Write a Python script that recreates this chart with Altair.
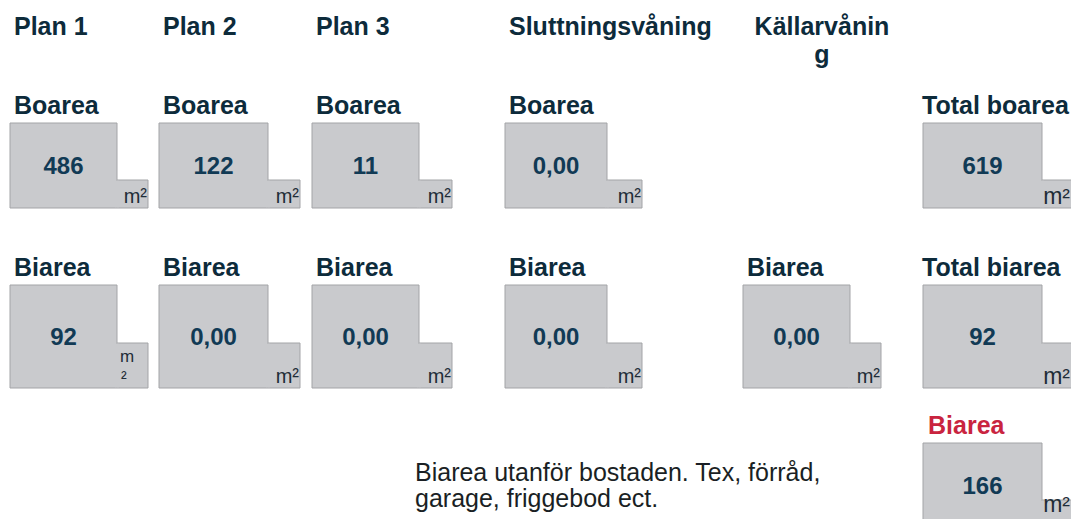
import altair as alt
import pandas as pd

# ---------------- content ----------------
floor_labels = ["Plan 1", "Plan 2", "Plan 3", "Sluttningsvåning", "Källarvånin\ng"]
boarea_label = "Boarea"
biarea_label = "Biarea"
boarea_values = ["486", "122", "11", "0,00"]          # Källarvåning has no boarea field
biarea_values = ["92", "0,00", "0,00", "0,00", "0,00"]
total_boarea_label = "Total boarea"
total_biarea_label = "Total biarea"
total_boarea_value = "619"
total_biarea_value = "92"
outside_label = "Biarea"
outside_value = "166"
unit_label = "m²"
note_lines = ["Biarea utanför bostaden. Tex, förråd,", "garage, friggebod ect."]

# ---------------- layout (screen pixels of the form) ----------------
col_left = [10, 159, 312, 505, 743, 923]
col_main_w = [107, 109, 107, 102, 107, 119]
col_ext_w = [31, 32, 33, 35, 31, 42]
row_geom = {"bo": (123, 208, 180), "bi": (285, 388, 343), "ut": (443, 528, 500)}

HEAD = "#0d2b3b"
VAL = "#113a55"
UNIT = "#1f2d38"
RED = "#c9243f"
FILL = "#c9cacd"
EDGE = "#a3a4a7"
FONT = "Liberation Sans"

boxes = []
for i, v in enumerate(boarea_values):
    boxes.append((i, "bo", v))
boxes.append((5, "bo", total_boarea_value))
for i, v in enumerate(biarea_values):
    boxes.append((i, "bi", v))
boxes.append((5, "bi", total_biarea_value))
boxes.append((5, "ut", outside_value))

rect_rows, seam_rows, val_rows, unit_rows, unit_big_rows, unit_wrap_rows = [], [], [], [], [], []
for c, r, v in boxes:
    top, bot, ext_top = row_geom[r]
    x0 = col_left[c]
    x1 = x0 + col_main_w[c]
    x2 = x1 + col_ext_w[c]
    rect_rows.append(dict(x=x0, x2=x1, y=top, y2=bot))
    rect_rows.append(dict(x=x1, x2=x2, y=ext_top, y2=bot))
    seam_rows.append(dict(x=x1 - 1.5, x2=x1 + 1.5, y=ext_top + 0.5, y2=bot - 0.5))
    val_rows.append(dict(x=(x0 + x1) / 2, y=(top + bot) / 2 + 8.5, text=v))
    if c == 5:
        unit_big_rows.append(dict(x=1070, y=min(bot - 4, 512), text=unit_label))
    elif c == 0 and r == "bi":
        # the reference wraps this unit onto two lines
        unit_wrap_rows.append(dict(x=x1 + 3, y=ext_top + 19, text="m"))
        unit_wrap_rows.append(dict(x=x1 + 4, y=ext_top + 41, text="²"))
    else:
        unit_rows.append(dict(x=x2 - 1, y=bot - 5, text=unit_label))

head_rows = []
for i, lab in enumerate(floor_labels[:4]):
    head_rows.append(dict(x=col_left[i] + 4, y=35, text=lab))
for i in range(4):
    head_rows.append(dict(x=col_left[i] + 4, y=114, text=boarea_label))
head_rows.append(dict(x=922, y=114, text=total_boarea_label))
for i in range(5):
    head_rows.append(dict(x=col_left[i] + 4, y=276, text=biarea_label))
head_rows.append(dict(x=922, y=276, text=total_biarea_label))

center_head_rows = [dict(x=822, y=35, text=floor_labels[4])]
red_rows = [dict(x=928, y=434, text=outside_label)]
note_rows = [dict(x=415, y=481 + 26 * k, text=t) for k, t in enumerate(note_lines)]

# 1 data unit = 1 screen pixel; the page margin is 8px, so the view starts at 8
xs = alt.Scale(domain=[8, 1071], nice=False, zero=False)
ys = alt.Scale(domain=[8, 519], nice=False, zero=False, reverse=True)


def enc_rect():
    return dict(
        x=alt.X("x:Q", scale=xs, axis=None),
        x2="x2:Q",
        y=alt.Y("y:Q", scale=ys, axis=None),
        y2="y2:Q",
    )


def enc_text():
    return dict(
        x=alt.X("x:Q", scale=xs, axis=None),
        y=alt.Y("y:Q", scale=ys, axis=None),
        text="text:N",
    )


rects = alt.Chart(pd.DataFrame(rect_rows)).mark_rect(
    fill=FILL, stroke=EDGE, strokeWidth=1, clip=True
).encode(**enc_rect())
seams = alt.Chart(pd.DataFrame(seam_rows)).mark_rect(
    fill=FILL, strokeWidth=0, clip=True
).encode(**enc_rect())

heads = alt.Chart(pd.DataFrame(head_rows)).mark_text(
    font=FONT, fontSize=25, fontWeight="bold", color=HEAD, align="left", baseline="alphabetic"
).encode(**enc_text())
center_heads = alt.Chart(pd.DataFrame(center_head_rows)).mark_text(
    font=FONT, fontSize=25, fontWeight="bold", color=HEAD, align="center", baseline="alphabetic",
    lineBreak="\n", lineHeight=28
).encode(**enc_text())
reds = alt.Chart(pd.DataFrame(red_rows)).mark_text(
    font=FONT, fontSize=25, fontWeight="bold", color=RED, align="left", baseline="alphabetic"
).encode(**enc_text())
vals = alt.Chart(pd.DataFrame(val_rows)).mark_text(
    font=FONT, fontSize=24, fontWeight="bold", color=VAL, align="center", baseline="alphabetic"
).encode(**enc_text())
units = alt.Chart(pd.DataFrame(unit_rows)).mark_text(
    font=FONT, fontSize=20, color=UNIT, align="right", baseline="alphabetic"
).encode(**enc_text())
units_big = alt.Chart(pd.DataFrame(unit_big_rows)).mark_text(
    font=FONT, fontSize=23, color=UNIT, align="right", baseline="alphabetic"
).encode(**enc_text())
units_wrap = alt.Chart(pd.DataFrame(unit_wrap_rows)).mark_text(
    font=FONT, fontSize=17, color=UNIT, align="left", baseline="alphabetic"
).encode(**enc_text())
notes = alt.Chart(pd.DataFrame(note_rows)).mark_text(
    font=FONT, fontSize=25, color="#1a1f24", align="left", baseline="alphabetic"
).encode(**enc_text())

chart = alt.layer(
    rects, seams, heads, center_heads, reds, vals, units, units_big, units_wrap, notes
).properties(
    width=1063, height=511, padding=0, autosize=alt.AutoSizeParams(type="none"),
    background="white",
).configure_view(stroke=None)

chart.save("out.html", embed_options={"renderer": "svg", "actions": False})
